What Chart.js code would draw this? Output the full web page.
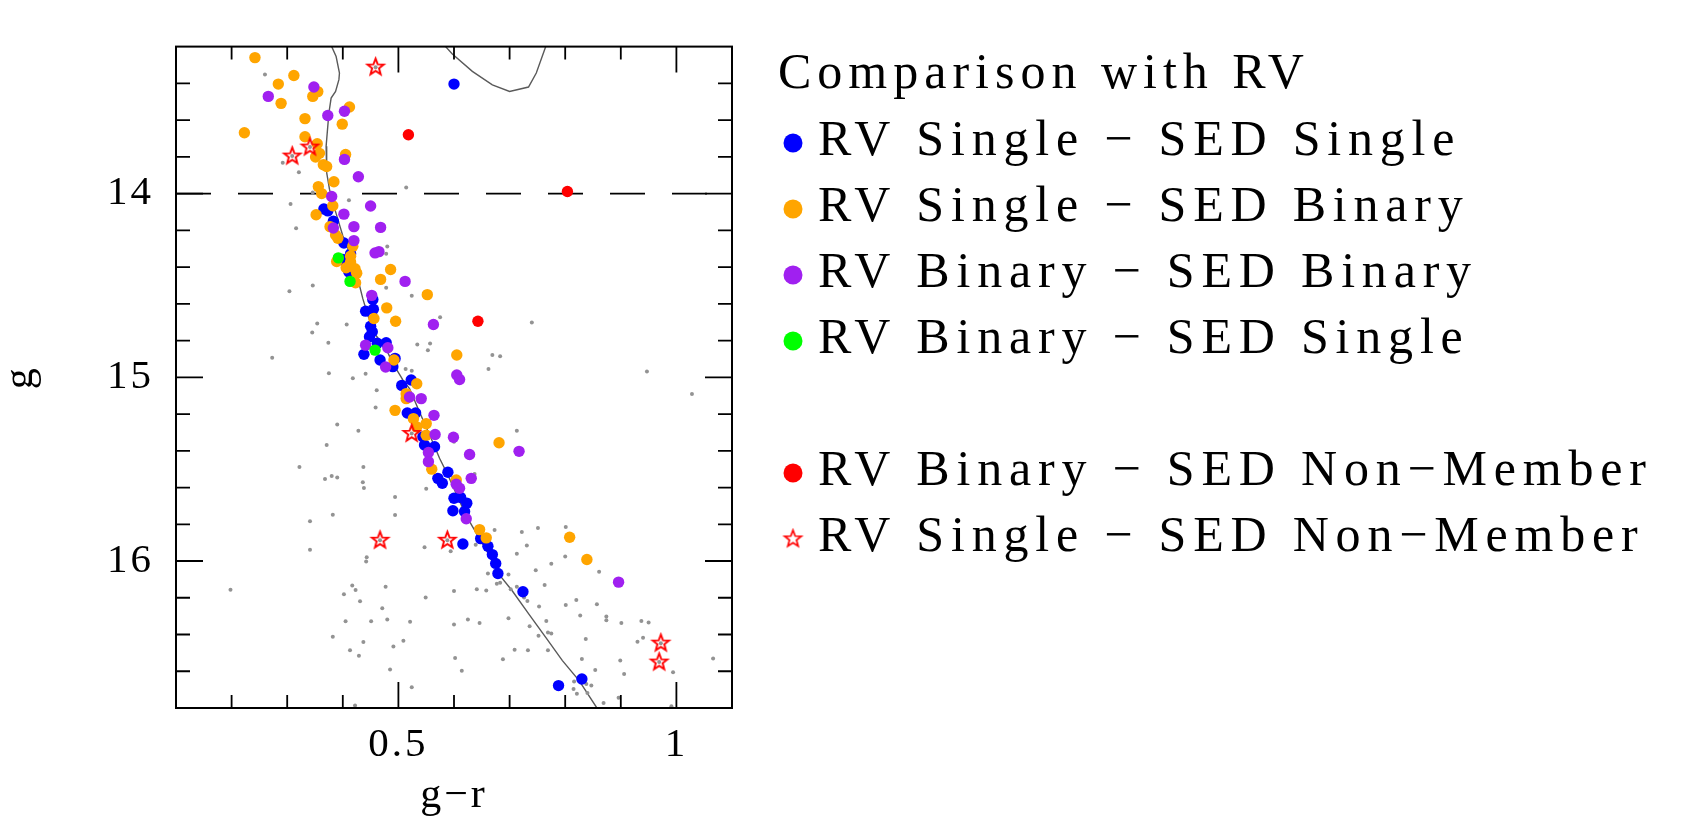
<!DOCTYPE html>
<html lang="en">
<head>
<meta charset="UTF-8" />
<title>Comparison with RV</title>
<script src="https://cdn.jsdelivr.net/npm/chart.js"></script>
<style>
  html, body { margin: 0; padding: 0; background: #fff; }
  #wrap { position: relative; width: 1687px; height: 817px; }
</style>
</head>
<body>
<div id="wrap"><canvas id="cmd"></canvas></div>
<script>
// === data: [g-r, g] per star ===
const rvSingleSedSingle = [
  [0.600,13.404],[0.366,14.084],[0.373,14.094],[0.383,14.151],[0.402,14.269],[0.414,14.328],[0.400,14.359],
  [0.411,14.427],[0.454,14.577],[0.441,14.640],[0.455,14.630],[0.450,14.722],[0.453,14.752],[0.448,14.779],
  [0.462,14.815],[0.478,14.812],[0.438,14.875],[0.467,14.906],[0.494,14.897],[0.490,14.942],[0.523,15.015],
  [0.506,15.044],[0.516,15.194],[0.531,15.194],[0.544,15.324],[0.547,15.369],[0.565,15.378],[0.571,15.550],
  [0.579,15.577],[0.589,15.517],[0.600,15.658],[0.612,15.654],[0.623,15.685],[0.619,15.730],[0.598,15.726],
  [0.616,15.907],[0.648,15.878],[0.661,15.920],[0.669,15.965],[0.675,16.013],[0.679,16.068],[0.724,16.167],
  [0.788,16.678],[0.830,16.642]
];
const rvSingleSedBinary = [
  [0.242,13.260],[0.312,13.357],[0.284,13.404],[0.346,13.471],[0.355,13.445],[0.289,13.509],[0.412,13.529],
  [0.332,13.592],[0.399,13.622],[0.223,13.669],[0.332,13.691],[0.354,13.729],[0.351,13.801],[0.358,13.781],
  [0.405,13.787],[0.365,13.843],[0.371,13.853],[0.384,13.936],[0.356,13.962],[0.362,14.000],[0.382,14.066],
  [0.352,14.115],[0.377,14.180],[0.387,14.225],[0.391,14.243],[0.418,14.287],[0.414,14.341],[0.389,14.370],
  [0.414,14.373],[0.406,14.404],[0.422,14.409],[0.425,14.433],[0.423,14.485],[0.486,14.413],[0.468,14.467],
  [0.552,14.550],[0.479,14.622],[0.495,14.695],[0.456,14.680],[0.492,14.906],[0.605,14.879],[0.533,15.035],
  [0.514,15.089],[0.514,15.116],[0.494,15.180],[0.527,15.225],[0.533,15.270],[0.550,15.252],[0.550,15.315],
  [0.560,15.500],[0.681,15.356],[0.604,15.559],[0.646,15.829],[0.658,15.874],[0.808,15.871],[0.839,15.992]
];
const rvBinarySedBinary = [
  [0.348,13.420],[0.266,13.471],[0.373,13.575],[0.403,13.552],[0.403,13.814],[0.428,13.908],[0.380,14.016],
  [0.450,14.068],[0.402,14.112],[0.420,14.180],[0.468,14.184],[0.383,14.187],[0.420,14.256],[0.458,14.323],
  [0.465,14.316],[0.512,14.478],[0.452,14.554],[0.563,14.713],[0.441,14.825],[0.481,14.839],[0.477,14.944],
  [0.605,14.987],[0.610,15.012],[0.520,15.107],[0.541,15.116],[0.564,15.207],[0.566,15.311],[0.599,15.326],
  [0.554,15.409],[0.554,15.459],[0.628,15.420],[0.717,15.403],[0.631,15.550],[0.604,15.582],[0.610,15.604],
  [0.622,15.770],[0.896,16.115]
];
const rvBinarySedSingle = [[0.392,14.350],[0.413,14.478],[0.458,14.852]];
const rvBinarySedNonMember = [[0.518,13.680],[0.804,13.989],[0.643,14.695]];
const rvSingleSedNonMember = [
  [0.459,13.312],[0.341,13.747],[0.309,13.796],[0.524,15.306],[0.467,15.887],[0.588,15.887],
  [0.972,16.447],[0.969,16.550]
];
const fieldStars = [
  [0.260,13.352],[0.292,13.832],[0.321,13.884],[0.346,13.994],[0.514,13.967],[0.306,14.057],[0.411,14.036],
  [0.316,14.189],[0.480,14.288],[0.478,14.328],[0.346,14.500],[0.304,14.532],[0.478,14.512],[0.524,14.556],
  [0.354,14.707],[0.407,14.713],[0.345,14.756],[0.374,14.812],[0.273,14.893],[0.575,14.673],[0.534,14.821],
  [0.557,14.816],[0.553,14.853],[0.513,14.955],[0.524,14.965],[0.375,14.978],[0.441,14.980],[0.418,15.005],
  [0.459,13.312],[0.341,13.747],[0.309,13.796],
  [0.740,14.702],[0.669,14.879],[0.683,14.886],[0.662,14.955],[0.947,14.969],
  [0.461,15.071],[0.459,15.165],[0.390,15.257],[0.428,15.291],[0.371,15.369],[0.322,15.488],[0.437,15.488],
  [0.380,15.537],[0.368,15.553],[0.390,15.546],[0.436,15.571],[0.438,15.602],[0.494,15.652],[0.494,15.750],
  [0.341,15.784],[0.382,15.748],[0.550,15.607],[0.341,15.938],[0.443,15.979],[0.442,16.003],[0.547,15.925],
  [0.594,15.947],[0.198,16.156],[0.417,16.133],[0.423,16.158],[0.402,16.181],[0.477,16.140],[0.431,16.219],
  [0.549,16.199],[0.600,16.163],[0.471,16.257],[0.405,16.328],[0.451,16.328],[0.480,16.318],[0.521,16.331],
  [0.600,16.346],[0.382,16.412],[0.437,16.441],[0.509,16.434],[0.413,16.485],[0.491,16.465],[0.429,16.515],
  [0.602,16.528],[0.485,16.591],[0.524,16.687],[0.422,16.786],
  [0.524,15.306],[0.467,15.887],[0.588,15.887],
  [1.028,15.091],[0.713,15.291],[0.600,15.351],[0.637,15.526],[0.673,15.831],[0.722,15.842],[0.751,15.820],
  [0.801,15.815],[0.731,15.916],[0.639,15.911],[0.713,15.961],[0.775,16.015],[0.800,15.976],[0.861,16.059],
  [0.747,16.050],[0.661,16.068],[0.698,16.073],[0.677,16.124],[0.683,16.118],[0.713,16.140],[0.702,16.154],
  [0.641,16.154],[0.658,16.161],[0.726,16.199],[0.732,16.217],[0.763,16.131],[0.753,16.248],[0.801,16.239],
  [0.820,16.212],[0.857,16.235],[0.827,16.297],[0.874,16.302],[0.874,16.322],[0.901,16.337],[0.937,16.326],
  [0.950,16.335],[0.625,16.318],[0.646,16.337],[0.698,16.311],[0.736,16.355],[0.766,16.326],[0.769,16.389],
  [0.775,16.394],[0.752,16.407],[0.837,16.425],[0.930,16.439],[0.940,16.418],[0.709,16.483],[0.733,16.485],
  [0.769,16.485],[0.688,16.535],[0.830,16.533],[0.899,16.542],[0.854,16.593],[0.906,16.615],[0.994,16.606],
  [1.066,16.530],[0.614,16.597],[0.816,16.656],[0.838,16.669],[0.847,16.678],[0.815,16.696],[0.821,16.723],
  [0.840,16.719],[0.869,16.773],[0.896,16.744],[0.991,16.790],
  [0.972,16.447],[0.969,16.550]
];
const isochrone = [
  [0.380,13.15],[0.380,13.20],[0.388,13.254],[0.394,13.344],[0.393,13.38],[0.387,13.444],[0.379,13.48],
  [0.375,13.561],[0.370,13.742],[0.371,13.886],[0.376,13.976],[0.382,14.048],[0.391,14.139],[0.400,14.229],
  [0.412,14.319],[0.418,14.391],[0.427,14.464],[0.436,14.572],[0.445,14.662],[0.459,14.77],[0.477,14.84],
  [0.490,14.924],[0.508,15.014],[0.520,15.062],[0.538,15.189],[0.564,15.369],[0.574,15.441],[0.589,15.532],
  [0.605,15.64],[0.621,15.748],[0.633,15.811],[0.658,15.94],[0.681,16.073],[0.705,16.163],[0.735,16.29],
  [0.765,16.416],[0.795,16.542],[0.825,16.651],[0.856,16.795],[0.860,16.85]
];
const isochroneUpper = [
  [0.583,13.18],[0.585,13.20],[0.597,13.24],[0.633,13.335],[0.669,13.408],[0.700,13.444],
  [0.734,13.42],[0.748,13.344],[0.765,13.20],[0.767,13.18]
];
const gLimit = 14;
const xRange = [0.1, 1.1];
const yRange = [13.2, 16.8];
const xLabelled = [0.5, 1];
const yLabelled = [14, 15, 16];
const legendTitle = "Comparison with RV";
const categories = [
  "RV Single \u2212 SED Single",
  "RV Single \u2212 SED Binary",
  "RV Binary \u2212 SED Binary",
  "RV Binary \u2212 SED Single",
  "RV Binary \u2212 SED Non\u2212Member",
  "RV Single \u2212 SED Non\u2212Member"
];

// open red star used as a point style
function makeStar(r, lw) {
  const c = document.createElement("canvas");
  const s = Math.ceil(2 * r + 2 * lw + 2);
  c.width = s;
  c.height = s;
  const g = c.getContext("2d");
  g.translate(s / 2, s / 2);
  g.beginPath();
  for (let i = 0; i < 10; i++) {
    const rad = i % 2 === 0 ? r : r * 0.42;
    const a = -Math.PI / 2 + (i * Math.PI) / 5;
    g.lineTo(rad * Math.cos(a), rad * Math.sin(a));
  }
  g.closePath();
  g.strokeStyle = "#ff0000";
  g.lineWidth = lw;
  g.stroke();
  return c;
}
const starPlot = makeStar(8.6, 1.9);
const starLegend = makeStar(8.8, 1.7);

const pts = (arr) => arr.map(([x, y]) => ({ x, y }));
const dots = (label, arr, color, order) => ({
  label,
  data: pts(arr),
  backgroundColor: color,
  borderColor: color,
  borderWidth: 0,
  pointRadius: 5.7,
  pointHoverRadius: 5.7,
  order,
});

const datasets = [
  dots(categories[0], rvSingleSedSingle, "#0000ff", 5),
  dots(categories[1], rvSingleSedBinary, "#ffa500", 4),
  dots(categories[2], rvBinarySedBinary, "#a020f0", 3),
  dots(categories[3], rvBinarySedSingle, "#00ff00", 2),
  dots(categories[4], rvBinarySedNonMember, "#ff0000", 1),
  {
    label: categories[5],
    data: pts(rvSingleSedNonMember),
    pointStyle: starPlot,
    backgroundColor: "#ff0000",
    borderColor: "#ff0000",
    pointRadius: 8,
    order: 0,
  },
  {
    label: "field",
    data: pts(fieldStars),
    backgroundColor: "#939393",
    borderWidth: 0,
    pointRadius: 2,
    order: 6,
  },
  {
    label: "isochrone",
    data: pts(isochrone),
    showLine: true,
    pointRadius: 0,
    borderColor: "#5a5a5a",
    borderWidth: 1.4,
    order: 7,
  },
  {
    label: "isochrone 2",
    data: pts(isochroneUpper),
    showLine: true,
    pointRadius: 0,
    borderColor: "#5a5a5a",
    borderWidth: 1.4,
    order: 7,
  },
  {
    label: "g limit",
    data: pts([[xRange[0], gLimit], [xRange[1], gLimit]]),
    showLine: true,
    pointRadius: 0,
    borderColor: "#000",
    borderWidth: 1.6,
    borderDash: [35, 27],
    order: 7,
  },
];

const near = (v, list) => list.find((l) => Math.abs(v - l) < 1e-6);

// frame + inward ticks on all four sides
const frameTicks = {
  id: "frameTicks",
  beforeLayout(chart) { chart.ctx.letterSpacing = "3px"; },
  beforeDraw(chart) { chart.ctx.letterSpacing = "3px"; },
  afterDraw(chart) {
    const { ctx, chartArea: a, scales } = chart;
    const x = scales.x, y = scales.y;
    ctx.save();
    ctx.strokeStyle = "#000";
    ctx.lineWidth = 2;
    ctx.strokeRect(a.left, a.top, a.right - a.left, a.bottom - a.top);
    ctx.lineWidth = 1.8;
    ctx.beginPath();
    x.ticks.forEach((t) => {
      if (t.value <= x.min + 1e-6 || t.value >= x.max - 1e-6) return;
      const p = x.getPixelForValue(t.value);
      const len = t.label ? 26 : 13;
      ctx.moveTo(p, a.bottom); ctx.lineTo(p, a.bottom - len);
      ctx.moveTo(p, a.top); ctx.lineTo(p, a.top + len);
    });
    y.ticks.forEach((t) => {
      if (t.value <= y.min + 1e-6 || t.value >= y.max - 1e-6) return;
      const p = y.getPixelForValue(t.value);
      const len = t.label ? 27 : 14;
      ctx.moveTo(a.left, p); ctx.lineTo(a.left + len, p);
      ctx.moveTo(a.right, p); ctx.lineTo(a.right - len, p);
    });
    ctx.stroke();
    ctx.restore();
  },
};

// legend on the right, with a blank row before the non-members
const legendRows = [0, 1, 2, 3, null, 4, 5];
const sideLegend = {
  id: "sideLegend",
  afterDraw(chart) {
    const ctx = chart.ctx;
    const markX = 793, textX = 818, firstBase = 155, step = 66;
    ctx.save();
    ctx.letterSpacing = "6px";
    ctx.fillStyle = "#000";
    ctx.textAlign = "left";
    ctx.textBaseline = "alphabetic";
    ctx.font = "50px 'Liberation Serif', serif";
    ctx.fillText(legendTitle, 778, 88);
    ctx.letterSpacing = "6.8px";
    legendRows.forEach((di, row) => {
      if (di === null) return;
      const ds = chart.data.datasets[di];
      const base = firstBase + row * step;
      const my = base - 12;
      if (ds.pointStyle instanceof HTMLCanvasElement) {
        ctx.drawImage(starLegend, markX - starLegend.width / 2, my - starLegend.height / 2);
      } else {
        ctx.fillStyle = ds.backgroundColor;
        ctx.beginPath();
        ctx.arc(markX, my, 9.5, 0, Math.PI * 2);
        ctx.fill();
      }
      ctx.fillStyle = "#000";
      ctx.fillText(ds.label, textX, base);
    });
    ctx.restore();
  },
};

Chart.defaults.font.family = "'Liberation Serif', serif";
Chart.defaults.color = "#000";

new Chart(document.getElementById("cmd"), {
  type: "scatter",
  data: { datasets },
  options: {
    responsive: true,
    maintainAspectRatio: false,
    animation: false,
    events: [],
    layout: { padding: { left: 0, top: 43, right: 955, bottom: 0 } },
    plugins: { legend: { display: false }, tooltip: { enabled: false } },
    scales: {
      x: {
        type: "linear",
        min: xRange[0],
        max: xRange[1],
        grid: { display: false, drawTicks: false },
        border: { display: false },
        ticks: {
          stepSize: 0.1,
          autoSkip: false,
          maxRotation: 0,
          padding: 13,
          font: { size: 41 },
          callback: (v) => { const l = near(v, xLabelled); return l === undefined ? "" : String(l); },
        },
        title: { display: true, text: "g\u2212r", font: { size: 42, lineHeight: 1 }, padding: { top: 0, bottom: 0 } },
        afterFit: (s) => { s.height = 109; },
      },
      y: {
        type: "linear",
        reverse: true,
        min: yRange[0],
        max: yRange[1],
        grid: { display: false, drawTicks: false },
        border: { display: false },
        ticks: {
          stepSize: 0.2,
          autoSkip: false,
          padding: 22,
          font: { size: 41 },
          callback: (v) => { const l = near(v, yLabelled); return l === undefined ? "" : String(l); },
        },
        title: { display: true, text: "g", font: { size: 42, lineHeight: 1 }, padding: { top: 0, bottom: 0 } },
        afterFit: (s) => { s.width = 176; },
      },
    },
  },
  plugins: [frameTicks, sideLegend],
});
</script>
</body>
</html>
